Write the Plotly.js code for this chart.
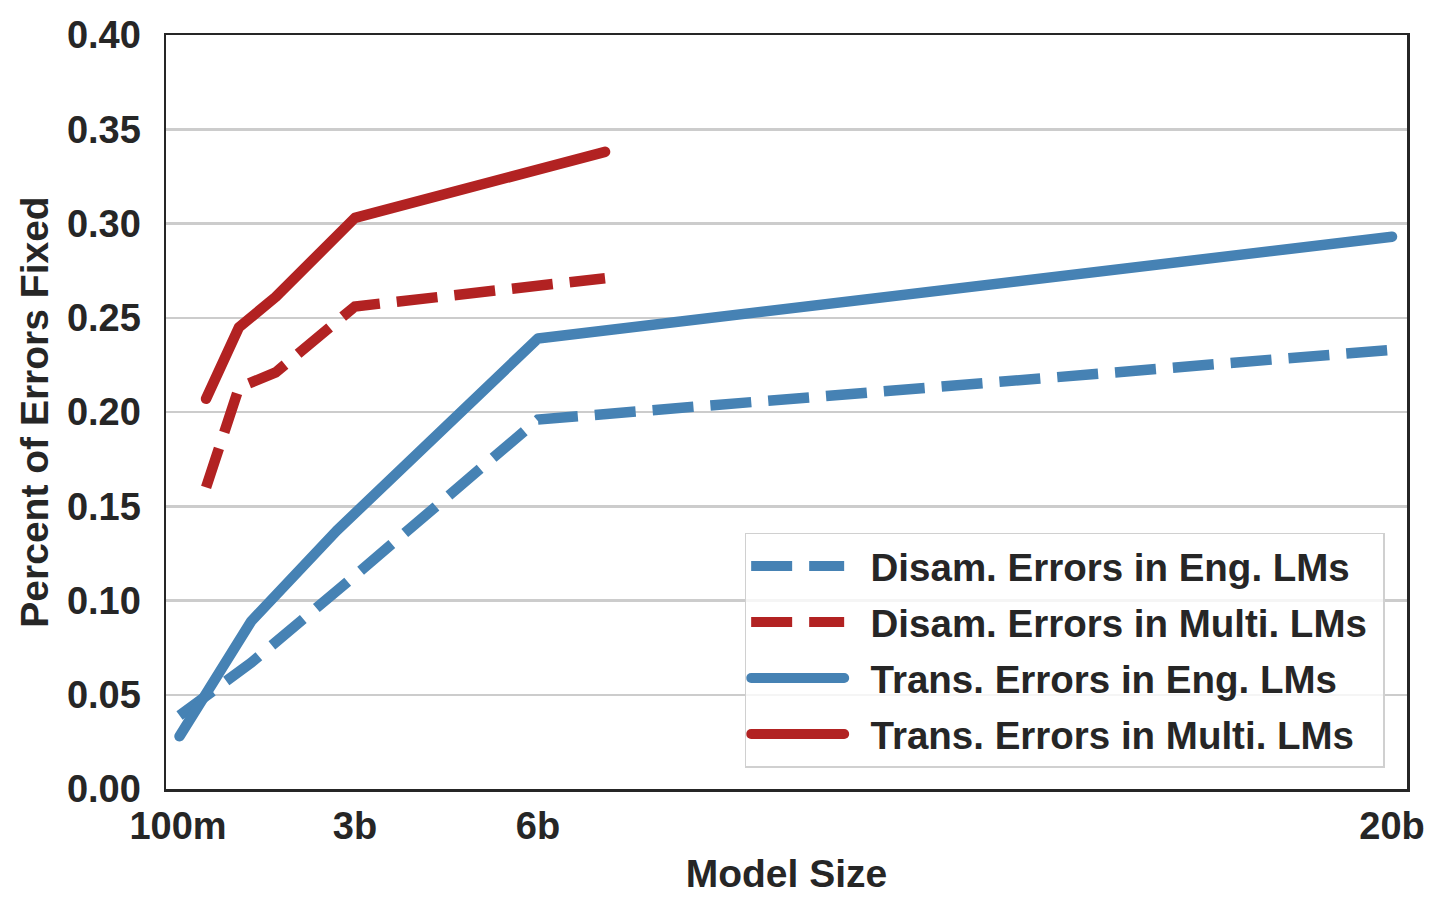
<!DOCTYPE html>
<html>
<head>
<meta charset="utf-8">
<script src="https://cdn.plot.ly/plotly-3.0.1.min.js"></script>
<style>
html, body { margin: 0; padding: 0; background: #ffffff; }
#chart { width: 1447px; height: 915px; }
</style>
</head>
<body>
<div id="chart"></div>
<script>
// Model sizes in billions of parameters
const engSizes = [0.125, 1.3, 2.7, 6, 20];
const multiSizes = [0.56, 1.1, 1.7, 3, 7.1];

// Percent of errors fixed
const disamEng = [0.039, 0.067, 0.105, 0.196, 0.233];
const disamMulti = [0.160, 0.213, 0.221, 0.256, 0.271];
const transEng = [0.028, 0.089, 0.137, 0.239, 0.293];
const transMulti = [0.207, 0.245, 0.261, 0.303, 0.338];

const seriesNames = [
  'Disam. Errors in Eng. LMs',
  'Disam. Errors in Multi. LMs',
  'Trans. Errors in Eng. LMs',
  'Trans. Errors in Multi. LMs'
];

const xTickVals = [0.1, 3, 6, 20];
const xTickText = ['100m', '3b', '6b', '20b'];
const yTickVals = [0, 0.05, 0.10, 0.15, 0.20, 0.25, 0.30, 0.35, 0.40];

const BLUE = '#4682b4';
const RED = '#b22222';
const INK = '#262626';
const FONT = '"Liberation Sans", Arial, Helvetica, sans-serif';
const DASH = '41px,17px';
const LW = 10.5;

function label(s) { return '\u00a0\u00a0' + s + '\u00a0'; }

const traces = [
  {x: engSizes, y: disamEng, name: label(seriesNames[0]), legendgroup: 'a', mode: 'lines',
   line: {color: BLUE, width: LW, dash: DASH}},
  {x: multiSizes, y: disamMulti, name: label(seriesNames[1]), legendgroup: 'b', mode: 'lines',
   line: {color: RED, width: LW, dash: DASH}},
  {x: engSizes, y: transEng, name: label(seriesNames[2]), legendgroup: 'c', mode: 'lines',
   line: {color: BLUE, width: LW}},
  {x: multiSizes, y: transMulti, name: label(seriesNames[3]), legendgroup: 'd', mode: 'lines',
   line: {color: RED, width: LW}}
];

const layout = {
  width: 1447,
  height: 915,
  margin: {l: 166, r: 40, t: 35, b: 126},
  paper_bgcolor: '#ffffff',
  plot_bgcolor: '#ffffff',
  font: {family: FONT, size: 38, color: INK, weight: 'bold'},
  showlegend: true,
  xaxis: {
    range: [-0.097, 20.246],
    tickvals: xTickVals,
    ticktext: xTickText,
    ticks: '',
    showgrid: false,
    zeroline: false,
    showline: true,
    mirror: true,
    linecolor: INK,
    linewidth: 2.5,
    ticklabelstandoff: 2,
    tickfont: {family: FONT, size: 38, color: INK, weight: 'bold'},
    title: {text: 'Model Size', font: {family: FONT, size: 39, color: INK, weight: 'bold'}, standoff: 14}
  },
  yaxis: {
    range: [0, 0.4],
    tickvals: yTickVals,
    tickformat: '.2f',
    ticks: '',
    showgrid: true,
    gridcolor: '#cccccc',
    gridwidth: 2.5,
    zeroline: false,
    showline: true,
    mirror: true,
    linecolor: INK,
    linewidth: 2.5,
    ticklabelstandoff: 15,
    tickfont: {family: FONT, size: 38, color: INK, weight: 'bold'},
    title: {text: 'Percent of Errors Fixed', font: {family: FONT, size: 39, color: INK, weight: 'bold'}, standoff: 7}
  },
  legend: {
    x: 0.982,
    y: 0.028,
    xanchor: 'right',
    yanchor: 'bottom',
    bgcolor: 'rgba(255,255,255,0.8)',
    bordercolor: '#d0d0d0',
    borderwidth: 1.5,
    font: {family: FONT, size: 38.5, color: INK, weight: 'bold'},
    itemwidth: 93,
    traceorder: 'grouped',
    tracegroupgap: 3
  }
};

Plotly.newPlot('chart', traces, layout, {displayModeBar: false, staticPlot: true}).then(function (gd) {
  gd.querySelectorAll('path.js-line').forEach(function (p) {
    const da = p.style.strokeDasharray;
    if (!da || da === 'none') {
      p.style.strokeLinecap = 'round';
      p.style.strokeLinejoin = 'round';
    }
  });
});
</script>
</body>
</html>
